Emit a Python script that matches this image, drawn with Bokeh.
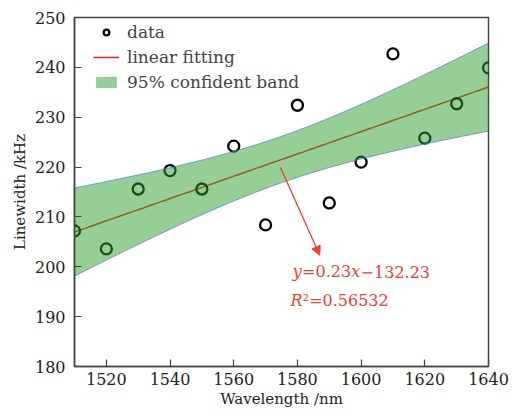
import numpy as np
from bokeh.plotting import figure
from bokeh.models import Label, Arrow, NormalHead, Legend, LegendItem, FixedTicker, Range1d
from bokeh.embed import file_html
from bokeh.resources import INLINE

# ---- data ----
wavelength = [1510, 1520, 1530, 1540, 1550, 1560, 1570, 1580, 1590, 1600, 1610, 1620, 1630, 1640]
linewidth = [207.2, 203.6, 215.6, 219.3, 215.6, 224.2, 208.4, 232.4, 212.8, 221.0, 242.7, 225.8, 232.7, 239.9]
x_ticks = [1520, 1540, 1560, 1580, 1600, 1620, 1640]
y_ticks = [180, 190, 200, 210, 220, 230, 240, 250]
eq_parts = ["y", "=0.23", "x", "\u2212132.23"]
r2_parts = ["R", "\u00b2=0.56532"]
t_crit = 2.179  # Student t, 12 dof, 95%

# ---- fit and confidence band computed from data ----
xa = np.array(wavelength, dtype=float)
ya = np.array(linewidth, dtype=float)
slope, intercept = np.polyfit(xa, ya, 1)
n = len(xa)
resid = ya - (slope * xa + intercept)
s = np.sqrt(np.sum(resid ** 2) / (n - 2))
sxx = np.sum((xa - xa.mean()) ** 2)
xg = np.linspace(xa.min(), xa.max(), 200)
yg = slope * xg + intercept
hw = t_crit * s * np.sqrt(1.0 / n + (xg - xa.mean()) ** 2 / sxx)

FONT = "'DejaVu Serif'"
RED = "#f0402a"

p = figure(width=514, height=415, output_backend="svg", toolbar_location=None,
           x_range=Range1d(1510, 1640), y_range=Range1d(180, 250),
           min_border_left=74, min_border_right=26, min_border_top=17, min_border_bottom=49)
p.grid.visible = False
p.outline_line_color = "#444444"
p.outline_line_width = 1.5
p.background_fill_color = "white"
p.border_fill_color = "white"

fit_r = p.line(xg, yg, line_color="#ff1a1a", line_width=1.5)
pts_r = p.scatter(wavelength, linewidth, size=11, fill_color=None, line_color="black", line_width=2.3)
band_r = p.varea(x=xg, y1=yg - hw, y2=yg + hw, fill_color="#2ca02c", fill_alpha=0.5)
p.line(xg, yg + hw, line_color="#5b84d0", line_width=1, line_alpha=0.8)
p.line(xg, yg - hw, line_color="#5b84d0", line_width=1, line_alpha=0.8)

legend = Legend(items=[LegendItem(label="data", renderers=[pts_r]),
                       LegendItem(label="linear fitting", renderers=[fit_r]),
                       LegendItem(label="95% confident band", renderers=[band_r])],
                location=(19, 273), border_line_color=None, background_fill_alpha=0,
                label_text_font=FONT, label_text_font_size="17px", label_height=22,
                glyph_width=26, glyph_height=14, spacing=3, padding=6, margin=0,
                label_standoff=8)
p.add_layout(legend)

for ax in (p.xaxis, p.yaxis):
    ax.major_tick_in = 7
    ax.major_tick_out = 0
    ax.minor_tick_line_color = None
    ax.axis_line_color = "#444444"
    ax.axis_line_width = 1.5
    ax.major_tick_line_color = "#444444"
    ax.major_tick_line_width = 1.2
    ax.major_label_text_font = FONT
    ax.major_label_text_font_size = "16px"
    ax.major_label_text_color = "#222222"
    ax.axis_label_text_font = FONT
    ax.axis_label_text_font_size = "15px"
    ax.axis_label_text_font_style = "normal"
    ax.axis_label_text_color = "#222222"

p.xaxis.ticker = FixedTicker(ticks=x_ticks)
p.yaxis.ticker = FixedTicker(ticks=y_ticks)
p.xaxis.axis_label = "Wavelength /nm"
p.yaxis.axis_label = "Linewidth /kHz"
p.xaxis.major_label_standoff = 6
p.xaxis.axis_label_standoff = 2
p.yaxis.major_label_standoff = 9
p.yaxis.axis_label_standoff = 3

# annotation arrow
p.add_layout(Arrow(x_start=1574.7, y_start=219.9, x_end=1587.0, y_end=202.3,
                   line_color=RED, line_width=1.3,
                   end=NormalHead(size=9, fill_color=RED, line_color=RED, line_width=1)))

# equation text (mixed italic / upright), DejaVu Serif advance widths in em
fs = 16
widths_eq = [0.592, 0.838 + 0.636 * 3 + 0.318, 0.592, 0.838 + 0.636 * 5 + 0.318]
xoff = 0.0
for part, w, it in zip(eq_parts, widths_eq, [True, False, True, False]):
    p.add_layout(Label(x=1578.5, y=199.0, x_offset=xoff, text=part, text_font=FONT,
                       text_font_size=f"{fs}px", text_color=RED,
                       text_font_style="italic" if it else "normal", text_baseline="alphabetic"))
    xoff += w * fs
widths_r2 = [0.77, 0]
xoff = 0.0
for part, w, it in zip(r2_parts, widths_r2, [True, False]):
    p.add_layout(Label(x=1577.8, y=193.2, x_offset=xoff, text=part, text_font=FONT,
                       text_font_size=f"{fs}px", text_color=RED,
                       text_font_style="italic" if it else "normal", text_baseline="alphabetic"))
    xoff += w * fs

open("out.html", "w").write(file_html(p, INLINE))
